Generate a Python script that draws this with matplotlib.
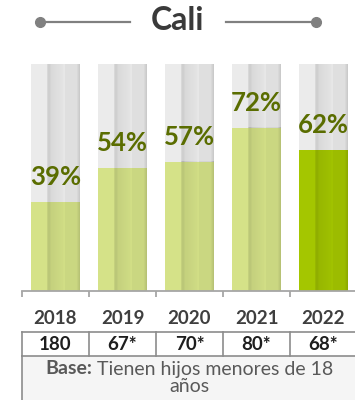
import numpy as np
import matplotlib
matplotlib.use("Agg")
import matplotlib.pyplot as plt
from matplotlib.transforms import blended_transform_factory
from matplotlib.lines import Line2D
from matplotlib.patches import Rectangle

# ---- data ----
title = "Cali"
years = ["2018", "2019", "2020", "2021", "2022"]
values = [39, 54, 57, 72, 62]
bases = ["180", "67*", "70*", "80*", "68*"]
base_note_bold = "Base:"
base_note = "Tienen hijos menores de 18\naños"

plt.rcParams['font.family'] = ['Lato', 'DejaVu Sans']

W, H = 355, 400
fig = plt.figure(figsize=(W / 100, H / 100), dpi=100)

def fy(px):  # pixel from top -> figure fraction
    return 1 - px / H

ax = fig.add_axes([22 / W, 109 / H, 335 / W, 227 / H])
x = np.arange(len(years))
bw = 0.72
light = '#d5e288'
strong = '#a4c600'
bg = '#ebebeb'
colors = [light] * (len(years) - 1) + [strong]

ax.bar(x, [100] * len(x), width=bw, color=bg, zorder=1)
ax.bar(x, values, width=bw, color=colors, zorder=2)

# shading stripes profile
n = 48
d = np.zeros(n)
d[16:19] = 0.12
d[19:32] = np.linspace(0.08, 0.03, 13)
d[32] = 0.0
d[33:45] = 0.05
d[45:48] = np.array([0.08, 0.11, 0.14])
ov = np.zeros((1, n, 4))
ov[..., 3] = d
for xi, v in zip(x, values):
    ax.imshow(ov, extent=(xi - bw / 2, xi + bw / 2, v, 100), aspect='auto',
              interpolation='bilinear', zorder=1.5)
    ax.imshow(ov, extent=(xi - bw / 2, xi + bw / 2, 0, v), aspect='auto',
              interpolation='bilinear', zorder=2.5)

for xi, v in zip(x, values):
    ax.annotate(f"{v}%", (xi, v), xytext=(0, 18), textcoords='offset points',
                ha='center', va='center', fontsize=18.5, fontweight='bold',
                color='#5a6d00', zorder=5)

ax.set_xlim(-0.5, len(x) - 0.5)
ax.set_ylim(0, 100)
for s in ['top', 'left', 'right']:
    ax.spines[s].set_visible(False)
ax.spines['bottom'].set_color('#a6a6a6')
ax.spines['bottom'].set_linewidth(1.3)
ax.set_yticks([])
ax.set_xticks([])
ax.set_xticks(np.arange(-0.5, len(x)), minor=True)
ax.tick_params(axis='x', which='minor', length=4, width=1.3, color='#a6a6a6')
ax.patch.set_alpha(0)

tr = blended_transform_factory(ax.transData, fig.transFigure)

# year labels
for xi, yr in zip(x, years):
    fig.text(xi, fy(318), yr, transform=tr, ha='center', va='center',
             fontsize=13.5, fontweight='bold', color='#3f3f3f')

# table
lc = '#8c8c8c'
fig.patches.append(Rectangle((-0.5, fy(400)), len(x), fy(356) - fy(400),
                             transform=tr, facecolor='#f5f5f5', edgecolor='none',
                             zorder=0))
for yy in (332, 356):
    fig.lines.append(Line2D([-0.5, len(x) - 0.5], [fy(yy), fy(yy)], transform=tr,
                            color=lc, lw=1.2))
for b in np.arange(-0.5, len(x)):
    fig.lines.append(Line2D([b, b], [fy(332), fy(356)], transform=tr, color=lc, lw=1.2))
fig.lines.append(Line2D([-0.5, -0.5], [fy(356), fy(400)], transform=tr, color=lc, lw=1.2))

for xi, bs in zip(x, bases):
    fig.text(xi, fy(344.5), bs, transform=tr, ha='center', va='center',
             fontsize=13.5, fontweight='bold', color='#1e1e1e')

# base note: bold "Base:" followed by regular text, centred together
lines = base_note.split("\n")
cx = (len(x) - 1) / 2
t1 = fig.text(0, fy(369), base_note_bold, ha='left', va='center', fontsize=14,
              fontweight='bold', color='#595959')
t2 = fig.text(0, fy(369), " " + lines[0], ha='left', va='center', fontsize=14,
              color='#595959')
r = fig.canvas.get_renderer()
w1 = t1.get_window_extent(r).width
w2 = t2.get_window_extent(r).width
cpx = tr.transform((cx, 0))[0]
start = cpx - (w1 + w2) / 2
t1.set_x(start / fig.bbox.width)
t2.set_x((start + w1) / fig.bbox.width)
fig.text(cx, fy(387), lines[1], transform=tr, ha='center', va='center',
         fontsize=14, color='#595959')

# title with decorative lines
fig.text(0.5, fy(21), title, ha='center', va='center', fontsize=23,
         fontweight='bold', color='#3a3a3a')
gc = '#808080'
fig.lines.append(Line2D([40 / W, 130 / W], [fy(21.5), fy(21.5)], transform=fig.transFigure,
                        color=gc, lw=1.6, marker='o', markersize=7, markevery=[0]))
fig.lines.append(Line2D([226 / W, 316 / W], [fy(21.5), fy(21.5)], transform=fig.transFigure,
                        color=gc, lw=1.6, marker='o', markersize=7, markevery=[1]))

fig.savefig("out.png", dpi=100)
